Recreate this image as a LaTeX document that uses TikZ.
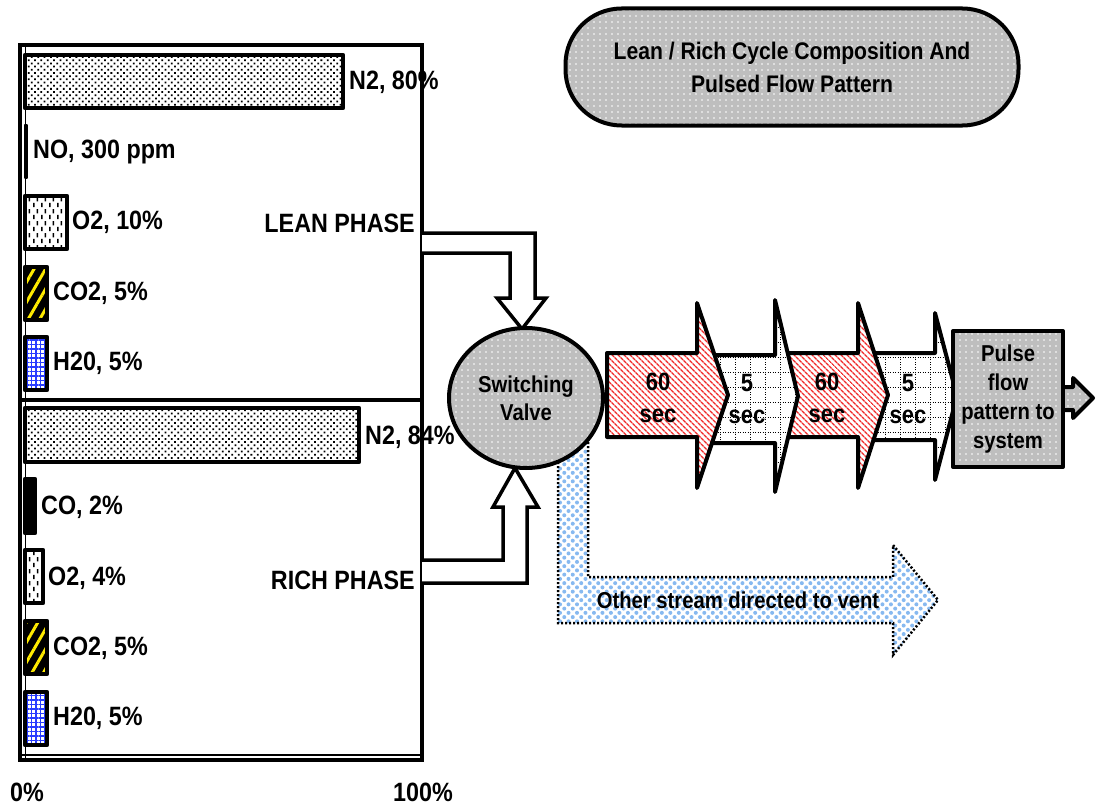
\documentclass[tikz,border=0pt]{standalone}
\usepackage{fontspec}
\setmainfont{Liberation Sans}[FakeStretch=0.88]
\usetikzlibrary{patterns,patterns.meta,shapes.geometric}
\definecolor{ventblue}{RGB}{135,185,240}
\definecolor{hatchred}{RGB}{240,40,40}
\definecolor{valvegray}{RGB}{190,190,190}
\definecolor{h2oblue}{RGB}{40,60,255}
\definecolor{co2yellow}{RGB}{255,235,0}
\pgfdeclarepatternformonly{vdash}{\pgfpointorigin}{\pgfpoint{8pt}{12pt}}{\pgfpoint{8pt}{12pt}}{%
  \pgfsetlinewidth{1.6pt}%
  \pgfpathmoveto{\pgfpoint{2pt}{1pt}}\pgfpathlineto{\pgfpoint{2pt}{5.5pt}}%
  \pgfpathmoveto{\pgfpoint{6pt}{7pt}}\pgfpathlineto{\pgfpoint{6pt}{11.5pt}}%
  \pgfusepathqstroke}
\pgfdeclarepatternformonly{dotgrid}{\pgfpoint{-1pt}{-1pt}}{\pgfpoint{15pt}{15pt}}{\pgfpoint{15pt}{15pt}}{%
  \pgfsetlinewidth{1pt}\pgfsetdash{{1.2pt}{1.3pt}}{0pt}%
  \pgfpathmoveto{\pgfpoint{0pt}{0pt}}\pgfpathlineto{\pgfpoint{15pt}{0pt}}%
  \pgfpathmoveto{\pgfpoint{0pt}{0pt}}\pgfpathlineto{\pgfpoint{0pt}{15pt}}%
  \pgfusepathqstroke}
\newcommand\lblfont{\fontsize{26.5}{30}\selectfont\bfseries}
\tikzset{
  thickline/.style={line width=4pt, line join=round},
  barline/.style={line width=4.5pt, line join=round},
  frameline/.style={line width=4pt},
  lbl/.style={font=\lblfont, anchor=west, inner sep=0pt},
  lblE/.style={font=\lblfont, anchor=east, inner sep=0pt},
  n2bar/.style={barline, preaction={fill=white}, pattern={Dots[distance=4.5pt, radius=1.25pt, angle=45]}, pattern color=black},
  o2bar/.style={barline, preaction={fill=white}, pattern=vdash, pattern color=black},
  co2bar/.style={barline, preaction={fill=black}, pattern={Lines[angle=60, distance=10pt, line width=3pt]}, pattern color=co2yellow},
  h2obar/.style={barline, preaction={fill=white}, pattern={Hatch[distance=4.5pt, line width=1.3pt]}, pattern color=h2oblue},
  blackbar/.style={barline, fill=black},
  redarrow/.style={thickline, preaction={fill=white}, pattern={Lines[angle=-45, distance=4pt, line width=1.5pt]}, pattern color=hatchred},
  gridarrow/.style={thickline, preaction={fill=white}, pattern=dotgrid, pattern color=black},
  graydots/.style={preaction={fill=valvegray}, pattern={Dots[distance=6pt, radius=0.9pt]}, pattern color=white},
  ventstyle/.style={line width=2.5pt, dash pattern=on 2pt off 2pt, preaction={fill=white}, pattern={Dots[distance=6pt, radius=2pt, angle=45]}, pattern color=ventblue},
  flowarrow/.style={line width=3.5pt, line join=miter, fill=white},
  secfont/.style={font=\fontsize{25}{32}\selectfont\bfseries, align=center, inner sep=0pt},
  midfont/.style={font=\fontsize{23}{29}\selectfont\bfseries, align=center, inner sep=0pt}
}
\begin{document}
\begin{tikzpicture}[x=1pt,y=-1pt]
\useasboundingbox (0,0) rectangle (1096,808);
% ---------- lean bars ----------
\draw[n2bar] (25,55) rectangle (343,108);
\draw[blackbar, line width=2pt] (25,125) rectangle (27,178);
\draw[o2bar] (25,196) rectangle (67,249);
\draw[co2bar] (25,267) rectangle (47,320);
\draw[h2obar] (25,337) rectangle (47,390);
\node[lbl] (ln2) at (349,82) {N2, 80\%};
\node[lbl] (lno) at (33,152) {NO, 300 ppm};
\node[lbl] (lo2) at (72,222) {O2, 10\%};
\node[lbl] (lco2) at (53,293) {CO2, 5\%};
\node[lbl] (lh2o) at (53,363) {H20, 5\%};
\node[lblE] (lean) at (415,223) {LEAN PHASE};
% ---------- rich bars ----------
\draw[n2bar] (25,408) rectangle (359,462);
\draw[blackbar] (25,479) rectangle (35,533);
\draw[o2bar] (25,550) rectangle (43,603);
\draw[co2bar] (25,621) rectangle (47,674);
\draw[h2obar] (25,692) rectangle (47,745);
\node[lbl] (rn2) at (365,437) {N2, 84\%};
\node[lbl] (rco) at (41,507) {CO, 2\%};
\node[lbl] (ro2) at (48,578) {O2, 4\%};
\node[lbl] (rco2) at (53,648) {CO2, 5\%};
\node[lbl] (rh2o) at (53,718) {H20, 5\%};
\node[lblE] (rich) at (415,580) {RICH PHASE};
% ---------- frame ----------
\draw[frameline] (20,45) rectangle (422,760);
\draw[frameline] (20,400) -- (422,400);
\draw[line width=1.2pt] (25.5,45) -- (25.5,760);
\draw[line width=1.2pt] (20,755) -- (422,755);
\node[lbl] (p0) at (10,792) {0\%};
\node[lbl] (p100) at (393,792) {100\%};
% ---------- lean / rich flow arrows ----------
\draw[flowarrow] (422,233) -- (535,233) -- (535,298) -- (546,298) -- (522,329) -- (497,298) -- (510,298) -- (510,253) -- (422,253);
\draw[flowarrow] (422,583) -- (527,583) -- (527,507) -- (538,507) -- (515,468) -- (493,507) -- (503,507) -- (503,560) -- (422,560);
% ---------- vent arrow ----------
\draw[ventstyle] (558,430) -- (558,623) -- (893,623) -- (893,655) -- (938,600) -- (893,545) -- (893,577) -- (588,577) -- (588,430);
\node[midfont] (vent) at (738,600) {Other stream directed to vent};
% ---------- valve ----------
\node[ellipse, draw, thickline, graydots, minimum width=154pt, minimum height=140pt, inner sep=0pt, midfont, font=\fontsize{23}{28}\selectfont\bfseries] (valve) at (526,398) {Switching\\Valve};
% ---------- pulse arrows ----------
\draw[gridarrow] (862,353) -- (935,353) -- (935,313) -- (957,396) -- (935,480) -- (935,440) -- (862,440) -- cycle;
\draw[redarrow] (780,353) -- (858,353) -- (858,303) -- (888,395) -- (858,488) -- (858,437) -- (780,437) -- cycle;
\draw[gridarrow] (700,355) -- (775,355) -- (775,300) -- (798,396) -- (775,492) -- (775,443) -- (700,443) -- cycle;
\draw[redarrow] (607,353) -- (697,353) -- (697,303) -- (728,395) -- (697,488) -- (697,437) -- (607,437) -- cycle;
\node[secfont] (s1) at (658,398) {60\\sec};
\node[secfont] (s2) at (747,399) {5\\sec};
\node[secfont] (s3) at (827,398) {60\\sec};
\node[secfont] (s4) at (908,399) {5\\sec};
% ---------- pulse box ----------
\draw[thickline, graydots] (1045,387) -- (1073,387) -- (1073,378) -- (1093,398) -- (1073,418) -- (1073,410) -- (1045,410) -- cycle;
\node[draw, thickline, graydots, minimum width=110pt, minimum height=136pt, midfont] (pulse) at (1008,399) {Pulse\\flow\\pattern to\\system};
% ---------- title ----------
\node[draw, thickline, graydots, rounded corners=56pt, minimum width=453pt, minimum height=117pt, align=center, font=\fontsize{24}{33}\selectfont\bfseries] (title) at (792,67) {Lean / Rich Cycle Composition And\\Pulsed Flow Pattern};
\end{tikzpicture}
\end{document}
